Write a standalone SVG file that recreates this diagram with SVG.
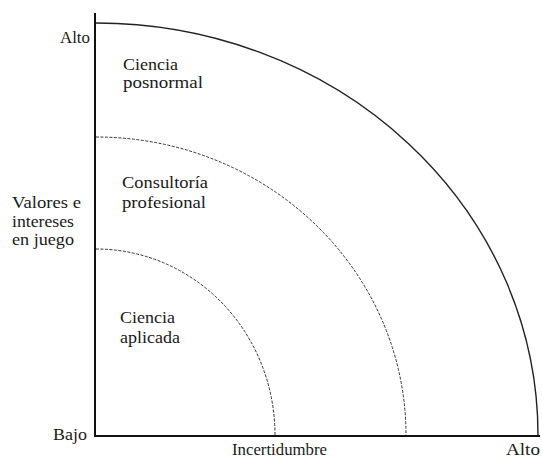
<svg xmlns="http://www.w3.org/2000/svg" width="542" height="459" viewBox="0 0 542 459">
<style>
.lbl { font-size: 17px; fill: #1a1a1a; }
.axis { stroke: #111; stroke-width: 2; fill: none; }
.solid { stroke: #222; stroke-width: 1.4; fill: none; }
.dash { stroke: #333; stroke-width: 1; fill: none; stroke-dasharray: 3 1.5; }
</style>
<rect width="542" height="459" fill="#fff"/>
<g id="connectors">
  <path class="solid" d="M96 23 A442 412 0 0 1 538 435"/>
  <path class="dash" d="M96 137 A310 298 0 0 1 406 435"/>
  <path class="dash" d="M96 249 A179 186 0 0 1 275 435"/>
  <path class="axis" d="M95 13 L95 436 L540 436"/>
</g>
<g font-family="Liberation Serif, DejaVu Serif, serif">
<g id="axis-labels">
  <text class="lbl" x="60" y="43" textLength="30" lengthAdjust="spacingAndGlyphs">Alto</text>
  <text class="lbl" x="53" y="440" textLength="34" lengthAdjust="spacingAndGlyphs">Bajo</text>
  <text class="lbl" x="12" y="208" textLength="69" lengthAdjust="spacingAndGlyphs">Valores e</text>
  <text class="lbl" x="12" y="227" textLength="62" lengthAdjust="spacingAndGlyphs">intereses</text>
  <text class="lbl" x="12" y="245" textLength="62" lengthAdjust="spacingAndGlyphs">en juego</text>
  <text class="lbl" x="232" y="455" textLength="95" lengthAdjust="spacingAndGlyphs">Incertidumbre</text>
  <text class="lbl" x="506" y="455" textLength="34" lengthAdjust="spacingAndGlyphs">Alto</text>
</g>
<g id="ciencia-posnormal">
  <text class="lbl" x="123" y="70" textLength="55" lengthAdjust="spacingAndGlyphs">Ciencia</text>
  <text class="lbl" x="123" y="88" textLength="80" lengthAdjust="spacingAndGlyphs">posnormal</text>
</g>
<g id="consultoria-profesional">
  <text class="lbl" x="122" y="188" textLength="86" lengthAdjust="spacingAndGlyphs">Consultoría</text>
  <text class="lbl" x="122" y="208" textLength="84" lengthAdjust="spacingAndGlyphs">profesional</text>
</g>
<g id="ciencia-aplicada">
  <text class="lbl" x="120" y="323" textLength="55" lengthAdjust="spacingAndGlyphs">Ciencia</text>
  <text class="lbl" x="120" y="343" textLength="60" lengthAdjust="spacingAndGlyphs">aplicada</text>
</g>
</g>
</svg>
